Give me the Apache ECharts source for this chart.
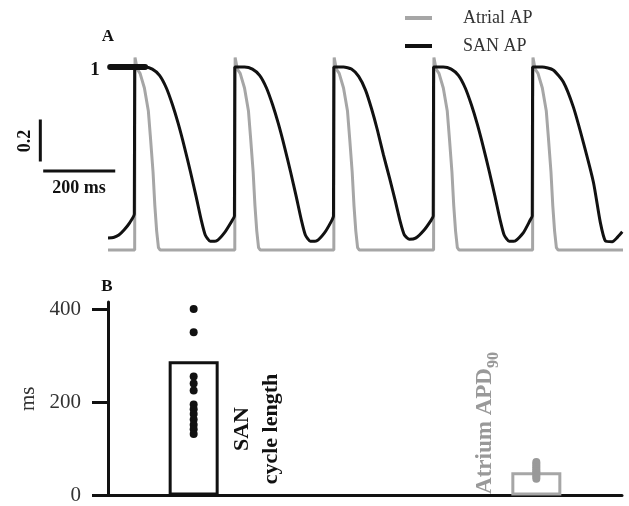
<!DOCTYPE html>
<html>
<head>
<meta charset="utf-8">
<script src="https://cdn.jsdelivr.net/npm/echarts@6/dist/echarts.min.js"></script>
<style>
html, body { margin: 0; padding: 0; background: #fff; }
#main { width: 629px; height: 506px; }
</style>
</head>
<body>
<div id="main"></div>
<script>
// panel A: normalised action potentials, [time (ms), value]
var sanAP = [
	[0, 0.186], [15, 0.188], [30, 0.2], [45, 0.225], [60, 0.258], [73, 0.3],
	[74, 1.0], [101, 1.0], [123, 0.99], [143, 0.96], [162, 0.9], [179, 0.82], [195, 0.73], [212, 0.62], [229, 0.5], [245, 0.38], [259, 0.27], [270, 0.2], [284, 0.17], [301, 0.172], [323, 0.21], [345, 0.27], [351, 0.29],
	[352, 1.0], [379, 1.0], [401, 0.99], [421, 0.96], [440, 0.9], [457, 0.82], [473, 0.73], [490, 0.62], [507, 0.5], [523, 0.38], [537, 0.27], [548, 0.2], [562, 0.17], [579, 0.172], [601, 0.21], [620, 0.265], [626, 0.29],
	[627, 1.0], [654, 1.0], [676, 0.99], [696, 0.955], [715, 0.89], [732, 0.8], [748, 0.7], [765, 0.58], [782, 0.47], [798, 0.36], [812, 0.26], [823, 0.2], [837, 0.18], [854, 0.185], [876, 0.22], [897, 0.27], [903, 0.29],
	[904, 1.0], [931, 1.0], [953, 0.99], [973, 0.96], [992, 0.9], [1009, 0.82], [1025, 0.73], [1042, 0.62], [1059, 0.5], [1075, 0.38], [1089, 0.27], [1100, 0.2], [1114, 0.17], [1131, 0.172], [1153, 0.21], [1172, 0.27], [1178, 0.29],
	[1179, 1.0], [1206, 1.0], [1236, 0.986], [1264, 0.93], [1292, 0.81], [1320, 0.64], [1348, 0.45], [1367, 0.26], [1381, 0.172], [1400, 0.168], [1415, 0.19], [1428, 0.215]
];
var atrialAP = [
	[0, 0.128],
	[74, 0.128], [75, 1.045], [81, 0.99], [89, 0.97], [101, 0.9], [112, 0.79], [118, 0.66], [125, 0.5], [130, 0.34], [135, 0.22], [140, 0.14], [145, 0.128],
	[352, 0.128], [353, 1.045], [359, 0.99], [367, 0.97], [379, 0.9], [390, 0.79], [396, 0.66], [403, 0.5], [408, 0.34], [413, 0.22], [418, 0.14], [423, 0.128],
	[627, 0.128], [628, 1.045], [634, 0.99], [642, 0.97], [654, 0.9], [665, 0.79], [671, 0.66], [678, 0.5], [683, 0.34], [688, 0.22], [693, 0.14], [698, 0.128],
	[904, 0.128], [905, 1.045], [911, 0.99], [919, 0.97], [931, 0.9], [942, 0.79], [948, 0.66], [955, 0.5], [960, 0.34], [965, 0.22], [970, 0.14], [975, 0.128],
	[1179, 0.128], [1180, 1.045], [1186, 0.99], [1194, 0.97], [1206, 0.9], [1217, 0.79], [1223, 0.66], [1230, 0.5], [1235, 0.34], [1240, 0.22], [1245, 0.14], [1250, 0.128],
	[1430, 0.128]
];
var levelOne = [[6, 1], [103, 1]];
var barV = [[-188, 0.55], [-188, 0.75]];   // 0.2 scale bar
var barH = [[-180, 0.505], [20, 0.505]];   // 200 ms scale bar

// panel B
var groups = ['SAN cycle length', 'Atrium APD90'];
var groupX = [1, 5];
var means = [288, 50];
var sanCycle = [400, 350, 255, 240, 225, 195, 185, 175, 163, 152, 142, 132];
var atrialApd = [72, 68, 64, 60, 56, 52, 48, 44, 40, 36];
var ticksB = [0, 200, 400];

var serif = 'Liberation Serif';
var gray = '#a6a6a6';
var black = '#111';

var chart = echarts.init(document.getElementById('main'));
var option = {
	animation: false,
	legend: {
		orient: 'vertical',
		left: 400,
		top: 4,
		icon: 'rect',
		itemWidth: 27,
		itemHeight: 4,
		itemGap: 10,
		textStyle: { fontFamily: serif, fontSize: 18, color: '#333', padding: [0, 0, 0, 26], lineHeight: 18 },
		data: ['Atrial AP', 'SAN AP']
	},
	grid: [
		{ left: 36, right: 6, top: 46, height: 231 },
		{ left: 108, right: 7, top: 302, height: 197 }
	],
	xAxis: [
		{ gridIndex: 0, type: 'value', min: -200, max: 1430, show: false },
		{
			gridIndex: 1, type: 'value', min: 0, max: 6,
			axisLine: { lineStyle: { color: black, width: 3 } },
			axisTick: { show: false }, axisLabel: { show: false }, splitLine: { show: false }
		}
	],
	yAxis: [
		{ gridIndex: 0, type: 'value', min: 0, max: 1.1, show: false },
		{
			gridIndex: 1, type: 'value', min: 0, max: 415,
			name: 'ms', nameLocation: 'middle', nameRotate: 90, nameGap: 67,
			nameTextStyle: { fontFamily: serif, fontSize: 21, color: '#333' },
			axisLine: { show: true, lineStyle: { color: black, width: 3 } },
			axisTick: { show: true, length: 16, lineStyle: { width: 3, color: black }, customValues: ticksB },
			axisLabel: { margin: 27, fontFamily: serif, fontSize: 21, color: '#333', customValues: ticksB },
			splitLine: { show: false }
		}
	],
	series: [
		{
			name: 'Atrial AP', type: 'line', xAxisIndex: 0, yAxisIndex: 0,
			data: atrialAP, showSymbol: false, color: gray,
			lineStyle: { width: 3, color: gray }, z: 2
		},
		{
			name: 'SAN AP', type: 'line', xAxisIndex: 0, yAxisIndex: 0,
			data: sanAP, showSymbol: false, color: black, smooth: 0.2,
			lineStyle: { width: 3, color: black }, z: 3
		},
		{
			type: 'line', xAxisIndex: 0, yAxisIndex: 0, data: levelOne, showSymbol: false,
			lineStyle: { width: 6, color: black, cap: 'round' }, z: 4
		},
		{
			type: 'line', xAxisIndex: 0, yAxisIndex: 0, data: barV, showSymbol: false,
			lineStyle: { width: 3, color: black }
		},
		{
			type: 'line', xAxisIndex: 0, yAxisIndex: 0, data: barH, showSymbol: false,
			lineStyle: { width: 3, color: black }
		},
		{
			type: 'bar', xAxisIndex: 1, yAxisIndex: 1, barWidth: 50,
			data: [
				{ value: [groupX[0], means[0]], itemStyle: { color: '#fff', borderColor: black, borderWidth: 3 } },
				{ value: [groupX[1], means[1]], itemStyle: { color: '#fff', borderColor: gray, borderWidth: 3 } }
			]
		},
		{
			type: 'scatter', xAxisIndex: 1, yAxisIndex: 1, symbolSize: 8,
			data: sanCycle.map(function (v) { return [groupX[0], v]; }),
			itemStyle: { color: black, opacity: 1 }, z: 5
		},
		{
			type: 'scatter', xAxisIndex: 1, yAxisIndex: 1, symbolSize: 8,
			data: atrialApd.map(function (v) { return [groupX[1], v]; }),
			itemStyle: { color: '#999', opacity: 1 }, z: 5
		}
	],
	graphic: [
		{ type: 'text', x: 108, y: 37, style: { text: 'A', font: 'bold 17px ' + serif, fill: black, align: 'center', verticalAlign: 'middle' } },
		{ type: 'text', x: 107, y: 287, style: { text: 'B', font: 'bold 17px ' + serif, fill: black, align: 'center', verticalAlign: 'middle' } },
		{ type: 'text', x: 95, y: 70, style: { text: '1', font: 'bold 19px ' + serif, fill: black, align: 'center', verticalAlign: 'middle' } },
		{ type: 'text', x: 25, y: 141, rotation: Math.PI / 2, style: { text: '0.2', font: 'bold 18px ' + serif, fill: black, align: 'center', verticalAlign: 'middle' } },
		{ type: 'text', x: 79, y: 188, style: { text: '200 ms', font: 'bold 18px ' + serif, fill: black, align: 'center', verticalAlign: 'middle' } },
		{ type: 'text', x: 257, y: 429, rotation: Math.PI / 2, style: { text: 'SAN\ncycle length', font: 'bold 22px ' + serif, lineHeight: 29, fill: black, align: 'center', verticalAlign: 'middle' } },
		{ type: 'text', x: 485, y: 431, rotation: Math.PI / 2, style: { text: 'Atrium APD', font: 'bold 23px ' + serif, fill: '#999', align: 'center', verticalAlign: 'middle' } },
		{ type: 'text', x: 494, y: 360, rotation: Math.PI / 2, style: { text: '90', font: 'bold 16px ' + serif, fill: '#999', align: 'center', verticalAlign: 'middle' } }
	]
};
chart.setOption(option);
</script>
</body>
</html>
